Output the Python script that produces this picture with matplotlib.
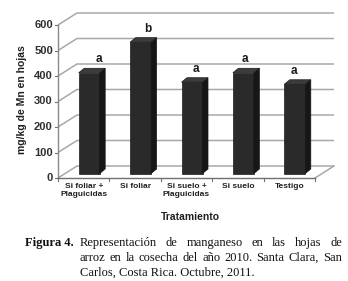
import matplotlib
matplotlib.use("Agg")
import matplotlib.pyplot as plt
from matplotlib.patches import Polygon
import numpy as np

categories = ["Si foliar +\nPlaguicidas", "Si foliar", "Si suelo +\nPlaguicidas", "Si suelo", "Testigo"]
values = [395, 515, 358, 395, 350]
letters = ["a", "b", "a", "a", "a"]
yticks = [0, 100, 200, 300, 400, 500, 600]

W, H = 348, 281
fig = plt.figure(figsize=(W / 100, H / 100), dpi=100)
fig.patch.set_facecolor("white")

# front plane of the plot area, in pixels
x0, x1 = 58, 315
yb, yt = 178, 25
ax = fig.add_axes([x0 / W, 1 - yb / H, (x1 - x0) / W, (yb - yt) / H])
ax.set_xlim(-0.5, len(categories) - 0.5)
ax.set_ylim(0, 600)
ax.axis("off")

pxx = (x1 - x0) / len(categories)  # px per category
pxy = (yb - yt) / 600.0            # px per unit

# wall depth offset (data units)
DX = 19 / pxx
DY = 12 / pxy
# bar depth offset
ddx = 5.5 / pxx
ddy = 4.5 / pxy
bw = 21 / pxx

grid_c = "#a8a8a8"
xl, xr = -0.5, len(categories) - 0.5
for t in yticks:
    ax.plot([xl, xl + DX, xr + DX], [t, t + DY, t + DY], color=grid_c, lw=1.1,
            clip_on=False, zorder=1, solid_capstyle="butt")
    ax.plot([xl - 0.06, xl], [t, t], color="#707070", lw=0.8, clip_on=False, zorder=1)
    ax.text(xl - 0.1, t, str(t), ha="right", va="center", fontsize=8,
            fontweight="bold", color="#303030", family="Liberation Sans")
# floor front-right edge
ax.plot([xr, xr + DX], [0, DY], color=grid_c, lw=1.1, clip_on=False, zorder=1)
# left axis line
ax.plot([xl, xl], [0, 600], color="#8a8a8a", lw=1.0, clip_on=False, zorder=1)
# x axis line and ticks
ax.plot([xl, xr], [0, 0], color="#707070", lw=1.0, clip_on=False, zorder=5)
for i in range(len(categories) + 1):
    ax.plot([xl + i, xl + i], [0, -3 / pxy], color="#707070", lw=0.8, clip_on=False, zorder=5)

xs = np.arange(len(categories))
ax.bar(xs + ddx, values, width=bw, bottom=ddy, color="#2a2a2a", edgecolor="#1a1a1a",
       lw=0.5, zorder=3)
for i, (x, v, lab, cat) in enumerate(zip(xs, values, letters, categories)):
    r = x + bw / 2 + ddx
    l = x - bw / 2 + ddx
    side = Polygon([(r, ddy), (r + ddx, 2 * ddy), (r + ddx, v + 2 * ddy), (r, v + ddy)],
                   closed=True, facecolor="#161616", edgecolor="#161616", lw=0.5, zorder=3)
    top = Polygon([(l, v + ddy), (l + ddx, v + 2 * ddy), (r + ddx, v + 2 * ddy), (r, v + ddy)],
                  closed=True, facecolor="#3c3c3c", edgecolor="#1a1a1a", lw=0.5, zorder=3)
    ax.add_patch(side)
    ax.add_patch(top)
    lx = x + ddx + (9.5 - 2.6 * i) / pxx
    ax.text(lx, v + ddy + 13.5 / pxy, lab, ha="center", va="center",
            fontsize=8.5, fontweight="bold", color="#1a1a1a", family="Liberation Sans")
    ax.text(x, -5 / pxy, cat, ha="center", va="top",
            fontsize=6, fontweight="bold", color="#202020", family="Liberation Sans",
            linespacing=1.1)

fig.text(22 / W, 1 - 100 / H, "mg/kg de Mn en hojas", rotation=90, ha="center", va="center",
         fontsize=7.5, fontweight="bold", color="#202020", family="Liberation Sans")
fig.text(190 / W, 1 - 217 / H, "Tratamiento", ha="center", va="center",
         fontsize=7.5, fontweight="bold", color="#202020", family="Liberation Sans")

# caption
fs = 9
fig.text(25 / W, 1 - 243 / H, "Figura 4.", ha="left", va="center", fontsize=fs,
         fontweight="bold", family="Liberation Serif", color="#111111")
lines = ["Representación de manganeso en las hojas de",
         "arroz en la cosecha del año 2010. Santa Clara, San",
         "Carlos, Costa Rica. Octubre, 2011."]
ys = [243, 258, 273]
cx0, cx1 = 80, 342
fig.canvas.draw()
r = fig.canvas.get_renderer()
for k, (line, yy) in enumerate(zip(lines, ys)):
    if k == len(lines) - 1:
        fig.text(cx0 / W, 1 - yy / H, line, ha="left", va="center", fontsize=fs,
                 family="Liberation Serif", color="#111111")
        continue
    words = line.split(" ")
    objs = [fig.text(0, 1 - yy / H, w_, ha="left", va="center", fontsize=fs,
                     family="Liberation Serif", color="#111111") for w_ in words]
    widths = [o.get_window_extent(renderer=r).width for o in objs]
    gap = (cx1 - cx0 - sum(widths)) / (len(words) - 1)
    xpos = cx0
    for o, wd in zip(objs, widths):
        o.set_x(xpos / W)
        xpos += wd + gap

fig.savefig("out.png", dpi=100, facecolor="white")
